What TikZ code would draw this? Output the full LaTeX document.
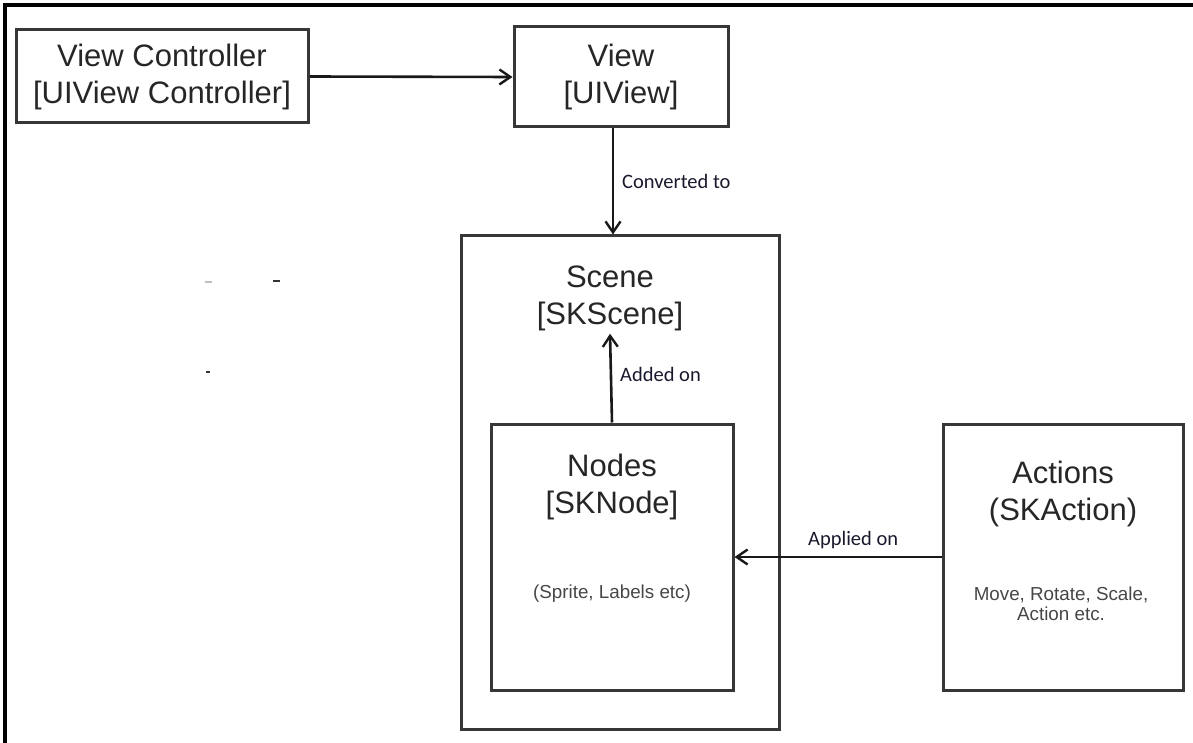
\documentclass[tikz,border=0pt]{standalone}
\usepackage{fontspec}
\setmainfont{Liberation Sans}
\newfontfamily\labelfont{Carlito}
\usetikzlibrary{arrows.meta,calc}
\definecolor{boxline}{RGB}{55,55,55}
\definecolor{smalltext}{RGB}{70,70,70}
\definecolor{labeltext}{RGB}{25,25,45}
\tikzset{
  box/.style={draw=boxline, line width=3pt, rectangle, inner sep=0pt},
  title/.style={align=center, inner sep=0pt, font=\fontsize{31}{37}\selectfont, text=black!85},
  note/.style={align=center, inner sep=0pt, font=\fontsize{18.8}{20.5}\selectfont, text=smalltext},
  conn/.style={line width=2.6pt, draw=black!90, -{Straight Barb[length=11pt,width=15pt,line width=2.4pt]}},
  lbl/.style={anchor=west, inner sep=0pt, font=\labelfont\fontsize{20.5}{22}\selectfont, text=labeltext},
}
\begin{document}
\begin{tikzpicture}[x=1pt, y=-1pt]
\useasboundingbox (0,0) rectangle (1193,743);
% frame along the top and left edges
\draw[line width=3.5pt, black] (5,743) -- (5,5) -- (1193,5);

% boxes
\node[box, minimum width=292pt, minimum height=93pt]  (vc)      at (162,76.5) {};
\node[box, minimum width=214pt, minimum height=100pt] (view)    at (621,77) {};
\node[box, minimum width=318pt, minimum height=493pt] (scene)   at (620,482.5) {};
\node[box, minimum width=242pt, minimum height=266pt] (nodes)   at (612,557) {};
\node[box, minimum width=240pt, minimum height=266pt] (actions) at (1063,557) {};

% box titles and notes
\node[title] (vct)    at (vc.center)   {View Controller\\{[}UIView Controller{]}};
\node[title] (viewt)  at (view.center) {View\\{[}UIView{]}};
\node[title] (scenet) at (610,298)     {Scene\\{[}SKScene{]}};
\node[title] (nodest) at (612,487)     {Nodes\\{[}SKNode{]}};
\node[title] (actt)   at (1063,494)    {Actions\\(SKAction)};
\node[note]  (nodesn) at (612,594)     {(Sprite, Labels etc)};
\node[note]  (actn)   at (1061,604)    {Move, Rotate, Scale,\\Action etc.};

% connectors
\draw[conn] (vc.east) -- (view.west);
\draw[conn] (view.south -| 613,0) -- (scene.north -| 613,0);
\draw[conn] (nodes.north) -- ($(scenet.south)+(0,3)$);
\draw[conn] (actions.west) -- (nodes.east);

% connector labels
\node[lbl] (conv)  at (622,181) {Converted to};
\node[lbl] (added) at (620,374) {Added on};
\node[lbl] (appl)  at (808,540) {Applied on};

% stray marks
\draw[line width=1.5pt, black!25] (205,282) -- (212,282);
\draw[line width=2pt, black!80] (273,281) -- (280,281);
\draw[line width=2pt, black!80] (206,372) -- (210,372);
\end{tikzpicture}
\end{document}
